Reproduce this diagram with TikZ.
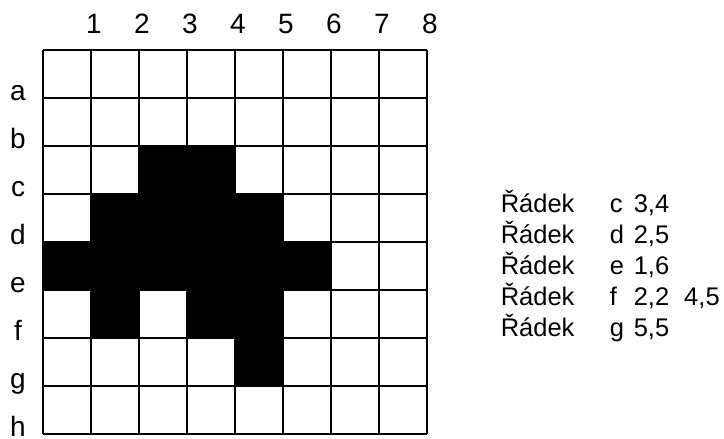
\documentclass[tikz,border=0pt]{standalone}
\usepackage{fontspec}
\setmainfont{Liberation Sans}

\begin{document}
\begin{tikzpicture}[x=1pt, y=-1pt, line width=1.6pt,
  lbl/.style={inner sep=0pt, anchor=base, font=\fontsize{28}{30}\selectfont},
  txt/.style={inner sep=0pt, anchor=base west, font=\fontsize{25.5}{28}\selectfont},
]
  \useasboundingbox (0,0) rectangle (724,439);
  % černé buňky: sloupec/řádek, buňka 48 px
  \foreach \c/\r in {3/3,4/3,2/4,3/4,4/4,5/4,1/5,2/5,3/5,4/5,5/5,6/5,2/6,4/6,5/6,5/7}
    \fill ({43+48*(\c-1)},{50+48*(\r-1)}) rectangle ++(48,48);
  % mřížka 8x8
  \foreach \i in {0,...,8} {
    \draw ({43+48*\i},50) -- ++(0,384);
    \draw (43,{50+48*\i}) -- ++(384,0);
  }
  % čísla sloupců a písmena řádků
  \foreach \i in {1,...,8}
    \node[lbl] (col\i) at ({46+48*\i},33) {\i};
  \foreach \r [count=\i] in {a,b,c,d,e,f,g,h}
    \node[lbl] (row\r) at (18,{52+48*\i}) {\r};
  % výpis řádků
  \foreach \r/\v [count=\i] in {c/{3,4},d/{2,5},e/{1,6},f/{2,2\hspace{15pt}4,5},g/{5,5}} {
    \node[txt] (rad\r) at (500,{212+31*(\i-1)}) {Řádek};
    \node[txt] (key\r) at (609,{212+31*(\i-1)}) {\r};
    \node[txt] (val\r) at (633,{212+31*(\i-1)}) {\v};
  }
\end{tikzpicture}
\end{document}
